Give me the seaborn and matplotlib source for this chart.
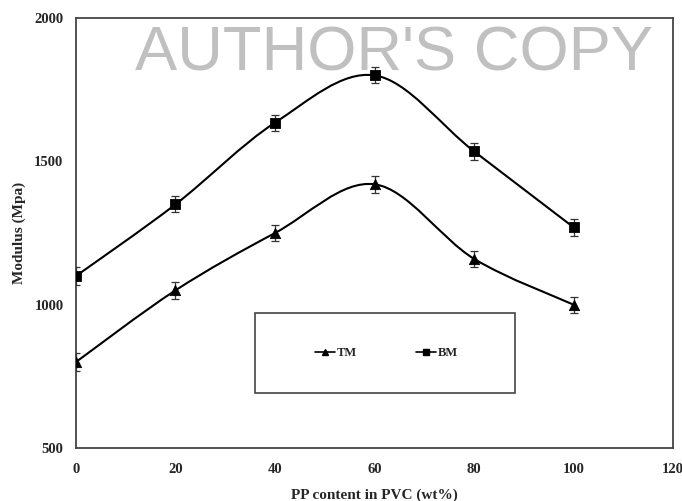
import numpy as np
import matplotlib
matplotlib.use('Agg')
import matplotlib.pyplot as plt
from matplotlib.path import Path
from matplotlib.patches import PathPatch, Rectangle
from matplotlib.lines import Line2D
import seaborn as sns

pp_content = [0, 20, 40, 60, 80, 100]
tm = [800, 1050, 1250, 1420, 1160, 1000]
bm = [1100, 1350, 1635, 1800, 1535, 1270]
tm_err = [30, 30, 28, 30, 28, 28]
bm_err = [30, 28, 28, 28, 30, 30]

sns.set_style('white')
plt.rcParams['font.family'] = ['Liberation Serif', 'DejaVu Serif']

fig = plt.figure(figsize=(6.82, 5.01), dpi=100)
ax = fig.add_axes([0.1114, 0.1058, 0.8755, 0.8582])


def smooth_path(xs, ys):
    # Excel-like smoothed line: cubic Bezier through the points
    p = np.column_stack([xs, ys]).astype(float)
    n = len(p)
    verts = [p[0]]
    codes = [Path.MOVETO]
    for i in range(n - 1):
        prev = p[i - 1] if i > 0 else p[i]
        nxt = p[i + 2] if i + 2 < n else p[i + 1]
        c1 = p[i] + (p[i + 1] - prev) / 6
        c2 = p[i + 1] - (nxt - p[i]) / 6
        verts += [c1, c2, p[i + 1]]
        codes += [Path.CURVE4] * 3
    return Path(verts, codes)


for vals, errs, mk in [(tm, tm_err, '^'), (bm, bm_err, 's')]:
    ax.add_patch(PathPatch(smooth_path(pp_content, vals), fill=False,
                           edgecolor='black', lw=1.5, zorder=2))
    ax.errorbar(pp_content, vals, yerr=errs, fmt='none', ecolor='#333333',
                elinewidth=0.9, capsize=3, capthick=0.9, zorder=3)
    sns.scatterplot(x=pp_content, y=vals, marker=mk, s=55, color='black',
                    edgecolor='black', ax=ax, zorder=4)

ax.set_xlim(0, 120)
ax.set_ylim(500, 2000)
ax.set_xticks([0, 20, 40, 60, 80, 100, 120])
ax.set_yticks([500, 1000, 1500, 2000])
for s in ax.spines.values():
    s.set_color('#444444')
    s.set_linewidth(1.3)
ax.tick_params(direction='inout', length=6, width=1.2, color='#444444',
               labelsize=10.5, pad=6)
for lab in ax.get_xticklabels() + ax.get_yticklabels():
    lab.set_fontweight('bold')
ax.tick_params(axis='x', pad=8)
ax.set_xlabel('PP content in PVC (wt%)', fontsize=11, fontweight='bold', labelpad=9)
ax.set_ylabel('Modulus (Mpa)', fontsize=11, fontweight='bold', labelpad=6)

# legend box
ax.add_patch(Rectangle((0.30, 0.128), 0.435, 0.186, transform=ax.transAxes,
                       fill=False, edgecolor='#444444', lw=1.2, zorder=5))
handles = [Line2D([], [], color='black', marker='^', markersize=5, lw=1.2),
           Line2D([], [], color='black', marker='s', markersize=5, lw=1.2)]
ax.legend(handles, ['TM', 'BM'], ncol=2, frameon=False, loc='center',
          bbox_to_anchor=(0.52, 0.221), handlelength=1.6, handletextpad=0.1,
          columnspacing=4.8, prop={'weight': 'bold', 'size': 9})

fig.text(0.578, 0.860, "AUTHOR'S COPY", family='Liberation Sans', fontsize=45.5,
         color='#c0c0c0', ha='center', va='baseline')

fig.savefig('out.png', dpi=100)
